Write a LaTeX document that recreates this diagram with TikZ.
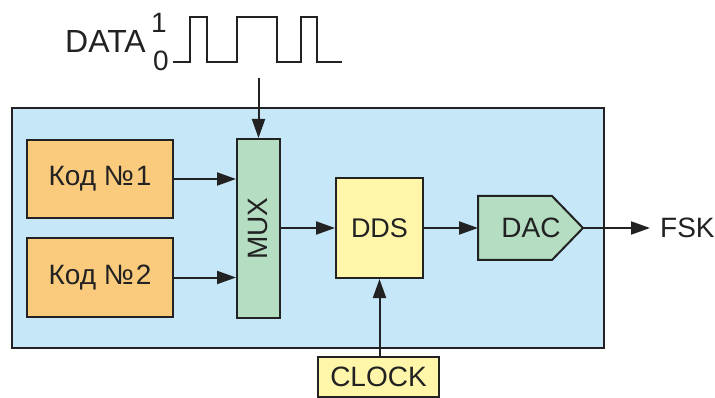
\documentclass[tikz,border=0pt]{standalone}
\usepackage{fontspec}
\setmainfont{Liberation Sans}
\usepackage{graphicx}
\usetikzlibrary{arrows.meta}
\definecolor{panelblue}{HTML}{C6E7F8}
\definecolor{codeorange}{HTML}{FBCB7D}
\definecolor{muxgreen}{HTML}{B4DDC2}
\definecolor{ddsyellow}{HTML}{FFF6AA}
\definecolor{ink}{HTML}{222222}
\tikzset{
  blk/.style={draw=ink, line width=2pt, inner sep=0pt, text=ink, font=\fontsize{28}{30}\selectfont},
  codebox/.style={blk, fill=codeorange, minimum width=146pt, minimum height=78pt},
  lbl/.style={inner sep=0pt, text=ink, font=\fontsize{28}{30}\selectfont},
  arr/.style={-{Triangle[length=19pt,width=13pt]}, line width=2pt, ink},
}
\begin{document}
\begin{tikzpicture}[x=1pt,y=-1pt]
  \useasboundingbox (0,0) rectangle (715,398);
  % outer panel
  \node[blk, fill=panelblue, minimum width=592pt, minimum height=240pt] (panel) at (308,228) {};
  % blocks
  \node[codebox] (code1) at (100,179) {Код №\kern2pt 1};
  \node[codebox, minimum height=79pt] (code2) at (100,277.5) {Код №\kern2pt 2};
  \node[blk, fill=muxgreen, minimum width=43pt, minimum height=179pt] (mux) at (258.5,228.5) {\rotatebox{90}{MUX}};
  \node[blk, fill=ddsyellow, minimum width=87pt, minimum height=100pt, font=\fontsize{27}{28}\selectfont] (dds) at (379.5,228) {DDS};
  % DAC, drawn as a pointed box
  \draw[line width=2pt, draw=ink, fill=muxgreen] (478,196) -- (552,196) -- (583,228) -- (552,260) -- (478,260) -- cycle;
  \coordinate (dacin) at (478,228);
  \coordinate (dacout) at (583,228);
  \node[lbl] (dac) at (531,228) {DAC};
  \node[blk, fill=ddsyellow, minimum width=121pt, minimum height=40pt] (clock) at (378.5,377) {CLOCK};
  \node[lbl, anchor=west] (fsk) at (660,228) {FSK};
  % data waveform
  \node[lbl, anchor=base west, font=\fontsize{32}{34}\selectfont] (data) at (65,53) {DATA};
  \node[lbl, anchor=east] (one) at (167,23) {1};
  \node[lbl, anchor=east] (zero) at (169,61) {0};
  \draw[line width=2pt, ink] (173,62) -- (190,62) -- (190,17) -- (207,17) -- (207,62) -- (237,62)
    -- (237,17) -- (277,17) -- (277,62) -- (301,62) -- (301,17) -- (317,17) -- (317,62) -- (342,62);
  \coordinate (dataout) at (258.5,78);
  % connections
  \draw[arr] (dataout) -- (mux.north);
  \draw[arr] (code1.east) -- (code1.east -| mux.west);
  \draw[arr] (code2.east) -- (code2.east -| mux.west);
  \draw[arr] (mux.east |- dds.west) -- (dds.west);
  \draw[arr] (dds.east) -- (dacin);
  \draw[arr] (dacout) -- ([xshift=-10pt]fsk.west);
  \draw[arr] (clock.north -| dds.south) -- (dds.south);
\end{tikzpicture}
\end{document}
